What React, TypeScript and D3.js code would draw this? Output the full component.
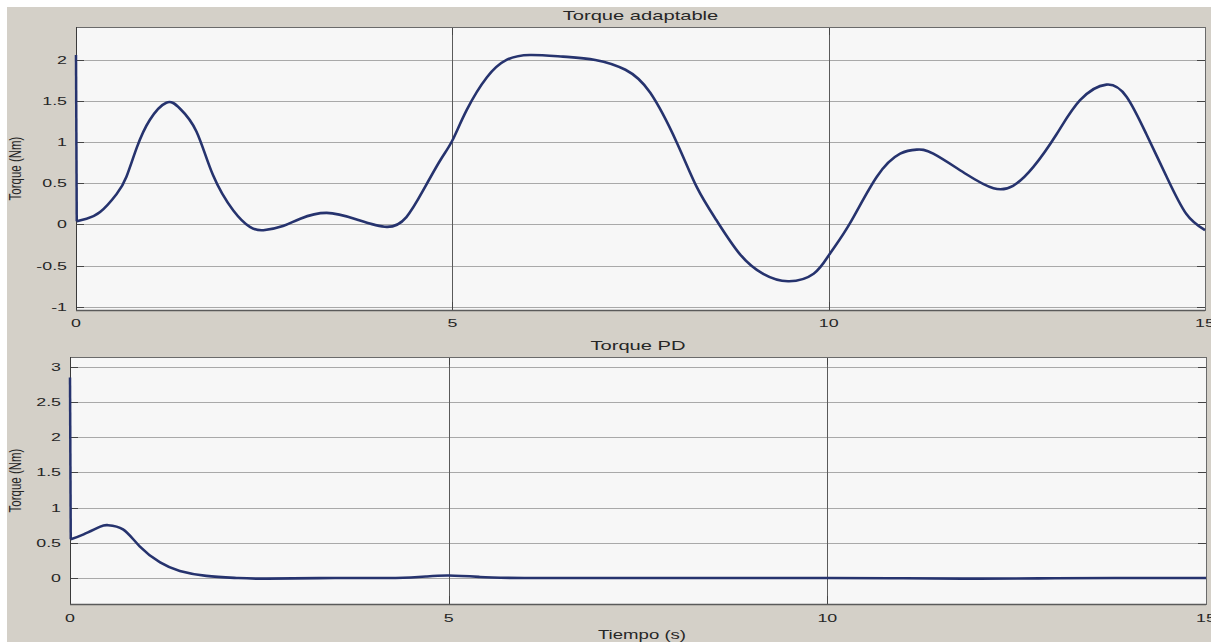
import React from 'react';
import * as d3 from 'd3';

// top panel: adaptive torque
const timeTop = [0, 0.01, 0.14, 0.32, 0.54, 0.67, 0.81, 0.98, 1.2, 1.38, 1.6, 1.82, 2.09, 2.31, 2.49, 2.75, 2.98, 3.33, 3.73, 4.13, 4.39, 4.61, 4.84, 5.0, 5.19, 5.46, 5.72, 6.03, 6.47, 6.9, 7.3, 7.63, 7.98, 8.25, 8.51, 8.82, 9.13, 9.46, 9.8, 10.02, 10.28, 10.64, 10.95, 11.17, 11.39, 11.83, 12.19, 12.45, 12.72, 13.03, 13.34, 13.69, 13.96, 14.22, 14.49, 14.75, 15.0];
const torqueAdapt = [2.06, 0.04, 0.07, 0.15, 0.37, 0.58, 0.94, 1.27, 1.48, 1.41, 1.13, 0.6, 0.17, -0.03, -0.07, -0.02, 0.07, 0.14, 0.06, -0.03, 0.09, 0.41, 0.78, 1.02, 1.39, 1.79, 2.0, 2.06, 2.04, 2.0, 1.88, 1.6, 1.0, 0.45, 0.05, -0.36, -0.6, -0.69, -0.6, -0.35, 0.01, 0.58, 0.86, 0.91, 0.86, 0.61, 0.44, 0.47, 0.7, 1.1, 1.51, 1.7, 1.55, 1.1, 0.58, 0.13, -0.07];

// bottom panel: PD torque
const timePD = [0, 0.01, 0.18, 0.4, 0.5, 0.7, 0.92, 1.19, 1.45, 1.8, 2.2, 2.6, 3.5, 4.3, 4.7, 5.0, 5.4, 6, 8, 10, 11, 12, 13, 14, 15];
const torquePD = [2.85, 0.55, 0.62, 0.73, 0.75, 0.69, 0.45, 0.22, 0.1, 0.03, 0.0, -0.01, 0, 0, 0.02, 0.035, 0.015, 0.0, 0.0, 0.0, -0.005, -0.01, -0.005, 0, 0];

const xTicks = [0, 5, 10, 15];
const yTicksTop = [-1, -0.5, 0, 0.5, 1, 1.5, 2];
const yTicksPD = [0, 0.5, 1, 1.5, 2, 2.5, 3];

const W = 1211;
const H = 642;
const FONT = '"Liberation Sans", Arial, sans-serif';
const SX = 1.55; // the screenshot is stretched horizontally

const Txt = ({ x, y, size, anchor = 'middle', children, rotate = false, sx = SX }: any) => (
  <text
    transform={`translate(${x},${y}) scale(${sx},1)${rotate ? ' rotate(-90)' : ''}`}
    textAnchor={anchor}
    fontFamily={FONT}
    fontSize={size}
    fill="#262626"
  >
    {children}
  </text>
);

const Panel = ({ times, values, left, right, top, bottom, yDomain, yTicks, title, titleY, tickLabelY }: any) => {
  const x = d3.scaleLinear().domain([0, 15]).range([left, right]);
  const y = d3.scaleLinear().domain(yDomain).range([bottom, top]);
  const pts = times.map((t: number, i: number) => [t, values[i]] as [number, number]);
  const smooth = d3
    .line<[number, number]>()
    .x((d) => x(d[0]))
    .y((d) => y(d[1]))
    .curve(d3.curveNatural);
  const straight = d3
    .line<[number, number]>()
    .x((d) => x(d[0]))
    .y((d) => y(d[1]));
  const px = (v: number) => Math.round(v) + 0.5;

  return (
    <g>
      <rect x={left} y={top} width={right - left} height={bottom - top} fill="#f7f7f7" />
      {/* horizontal grid */}
      {yTicks.map((v: number) => (
        <line key={'h' + v} x1={left} x2={right} y1={px(y(v))} y2={px(y(v))} stroke="#a9a9a9" />
      ))}
      {/* vertical grid */}
      {xTicks.slice(1, -1).map((t) => (
        <line key={'v' + t} x1={px(x(t))} x2={px(x(t))} y1={top} y2={bottom} stroke="#5a5a5a" />
      ))}
      {/* ticks */}
      {yTicks.map((v: number) => (
        <g key={'t' + v}>
          <line x1={left} x2={left + 8} y1={px(y(v))} y2={px(y(v))} stroke="#444" />
          <line x1={right - 8} x2={right} y1={px(y(v))} y2={px(y(v))} stroke="#444" />
        </g>
      ))}
      {xTicks.map((t) => (
        <g key={'xt' + t}>
          <line x1={px(x(t))} x2={px(x(t))} y1={bottom - 8} y2={bottom} stroke="#444" />
          <line x1={px(x(t))} x2={px(x(t))} y1={top} y2={top + 8} stroke="#444" />
        </g>
      ))}
      <rect x={left + 0.5} y={top + 0.5} width={right - left} height={bottom - top} fill="none" stroke="#6a6a6a" />
      <line x1={left + 0.5} x2={left + 0.5} y1={top} y2={bottom} stroke="#3a3a3a" />
      <line x1={left} x2={right} y1={bottom + 0.5} y2={bottom + 0.5} stroke="#5a5a5a" strokeWidth={1.5} />

      {/* initial spike, then the smooth response */}
      <path d={straight(pts.slice(0, 2)) || ''} fill="none" stroke="#26336e" strokeWidth={2.5} />
      <path d={smooth(pts.slice(1)) || ''} fill="none" stroke="#26336e" strokeWidth={2.6} strokeLinejoin="round" />

      {/* tick labels */}
      {yTicks.map((v: number) => (
        <Txt key={'yl' + v} x={left - 9} y={y(v) + 4} size={11.5} anchor="end">
          {String(v)}
        </Txt>
      ))}
      {xTicks.map((t) => (
        <Txt key={'xl' + t} x={x(t)} y={tickLabelY} size={11.5}>
          {String(t)}
        </Txt>
      ))}
      <Txt x={(left + right) / 2} y={titleY} size={13}>
        {title}
      </Txt>
      <Txt x={21} y={(top + bottom) / 2} size={11.5} anchor="middle" rotate sx={1.4}>
        Torque (Nm)
      </Txt>
    </g>
  );
};

export default function App() {
  return (
    <svg width={W} height={H} style={{ position: 'absolute', left: 0, top: 0 }}>
      <rect x={0} y={0} width={W} height={H} fill="#d4d0c8" />
      <rect x={0} y={0} width={W} height={7} fill="#ffffff" />
      <rect x={0} y={0} width={7} height={H} fill="#ffffff" />
      <Panel
        times={timeTop}
        values={torqueAdapt}
        left={76}
        right={1205}
        top={27}
        bottom={310}
        yDomain={[-1.04, 2.4]}
        yTicks={yTicksTop}
        title="Torque adaptable"
        titleY={19.5}
        tickLabelY={327}
      />
      <Panel
        times={timePD}
        values={torquePD}
        left={70}
        right={1206}
        top={357}
        bottom={604}
        yDomain={[-0.37, 3.14]}
        yTicks={yTicksPD}
        title="Torque PD"
        titleY={349.5}
        tickLabelY={622}
      />
      <Txt x={642} y={639} size={12}>
        Tiempo (s)
      </Txt>
    </svg>
  );
}
